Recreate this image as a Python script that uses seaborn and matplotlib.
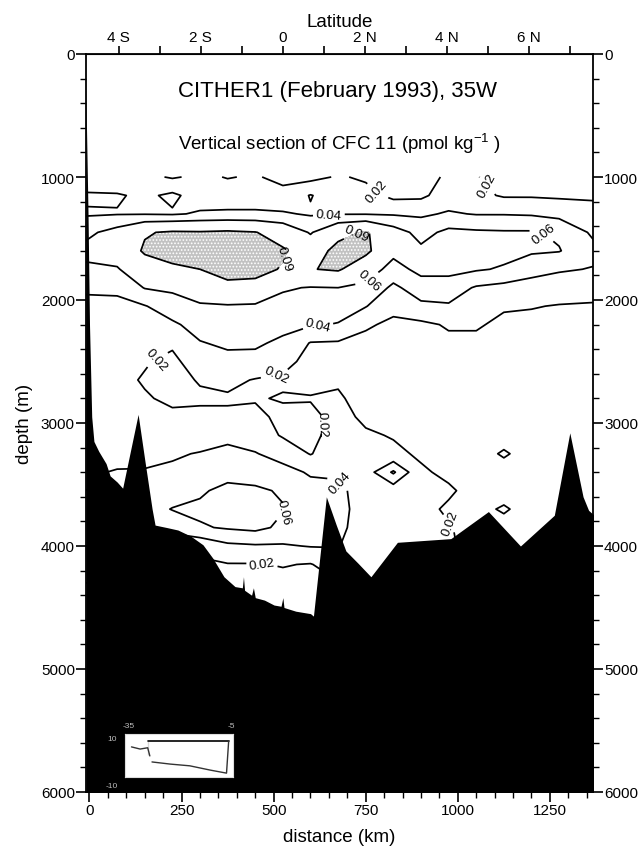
import numpy as np
import matplotlib
matplotlib.use("Agg")
import matplotlib.pyplot as plt
import seaborn as sns

# ---------------- data ----------------
distance_km = [-10, 75, 150, 225, 300, 375, 450, 525, 600, 675, 750, 825, 900,
               975, 1050, 1125, 1200, 1275, 1370]
depth_m = [1000, 1150, 1300, 1450, 1600, 1750, 1900, 2050, 2200, 2350, 2500, 2650,
           2800, 2950, 3100, 3250, 3400, 3550, 3700, 3850, 4000, 4150, 4300, 4450, 4600]

# CFC-11 (pmol/kg), one list per depth level, values at the distances above
cfc_1000 = [.025, .024, .025, .018, .024, .019, .022, .014, .014, .022, .017, .014, .013, .023, .021, .012, .012, .012, .013]
cfc_1150 = [.043, .042, .036, .044, .031, .030, .030, .027, .041, .030, .027, .015, .016, .030, .025, .018, .018, .017, .018]
cfc_1300 = [.038, .039, .039, .038, .042, .043, .043, .042, .038, .039, .039, .038, .037, .042, .039, .039, .038, .034, .025]
cfc_1450 = [.055, .068, .088, .093, .092, .094, .091, .078, .058, .082, .093, .070, .053, .065, .063, .062, .062, .057, .036]
cfc_1600 = [.066, .072, .093, .099, .098, .100, .098, .093, .076, .098, .096, .066, .064, .072, .070, .066, .063, .061, .045]
cfc_1750 = [.056, .058, .078, .086, .090, .097, .098, .088, .089, .093, .072, .052, .066, .066, .062, .058, .046, .042, .039]
cfc_1900 = [.043, .044, .061, .064, .070, .085, .082, .062, .059, .060, .055, .036, .050, .050, .038, .034, .033, .030, .028]
cfc_2050 = [.035, .035, .039, .050, .058, .058, .057, .054, .050, .048, .041, .024, .036, .038, .030, .022, .021, .019, .018]
cfc_2200 = [.031, .033, .030, .037, .047, .050, .050, .046, .042, .039, .022, .017, .016, .022, .022, .016, .015, .014, .014]
cfc_2350 = [.028, .028, .023, .022, .039, .043, .043, .036, .019, .018, .016, .014, .013, .016, .016, .014, .013, .013, .013]
cfc_2500 = [.026, .025, .021, .017, .027, .035, .034, .024, .016, .015, .014, .013, .012, .013, .014, .013, .013, .013, .013]
cfc_2650 = [.025, .023, .019, .016, .021, .024, .019, .018, .015, .018, .013, .012, .012, .012, .013, .012, .013, .013, .013]
cfc_2800 = [.026, .024, .021, .018, .018, .018, .019, .021, .021, .022, .014, .013, .012, .012, .012, .012, .013, .013, .013]
cfc_2950 = [.028, .026, .024, .022, .023, .023, .023, .017, .016, .025, .017, .015, .013, .012, .012, .012, .013, .013, .013]
cfc_3100 = [.031, .030, .030, .030, .031, .035, .031, .018, .015, .028, .022, .019, .015, .013, .012, .013, .013, .013, .013]
cfc_3250 = [.034, .035, .036, .038, .041, .045, .041, .033, .019, .032, .026, .023, .018, .015, .013, .022, .013, .013, .013]
cfc_3400 = [.038, .041, .041, .043, .050, .052, .052, .046, .038, .038, .030, .063, .022, .017, .014, .013, .013, .013, .013]
cfc_3550 = [.040, .045, .045, .048, .057, .066, .063, .058, .046, .043, .034, .028, .024, .022, .015, .013, .013, .013, .013]
cfc_3700 = [.042, .045, .050, .061, .064, .070, .068, .061, .050, .045, .033, .026, .024, .018, .015, .022, .013, .013, .013]
cfc_3850 = [.042, .045, .045, .045, .058, .062, .065, .056, .050, .045, .030, .024, .023, .021, .015, .014, .013, .013, .013]
cfc_4000 = [.040, .040, .035, .030, .025, .036, .038, .038, .041, .041, .028, .022, .022, .022, .015, .014, .013, .013, .013]
cfc_4150 = [.030, .030, .025, .019, .017, .019, .019, .021, .019, .030, .025, .021, .021, .021, .015, .014, .013, .013, .013]
cfc_4300 = [.020, .020, .018, .015, .014, .015, .014, .015, .015, .019, .021, .018, .018, .018, .015, .014, .013, .013, .013]
cfc_4450 = [.015, .015, .015, .013, .012, .012, .012, .012, .012, .015, .015, .015, .015, .015, .015, .014, .013, .013, .013]
cfc_4600 = [.015, .015, .015, .013, .012, .012, .012, .012, .012, .015, .015, .015, .015, .015, .015, .014, .013, .013, .013]

contour_levels = [0.02, 0.04, 0.06, 0.09]

# sea floor (distance km, depth m)
bottom_km = [-10, -4, 0, 6, 12, 25, 45, 56, 75, 90, 132, 150, 170, 178, 210, 240, 275,
             308, 335, 365, 395, 415, 418, 421, 440, 445, 450, 475, 501, 520, 525, 528,
             560, 600, 608, 643, 670, 696, 729, 764, 836, 981, 1083, 1170, 1262, 1304,
             1340, 1355, 1370]
bottom_m = [300, 1300, 2200, 2950, 3150, 3230, 3330, 3430, 3480, 3530, 2930, 3300, 3700,
            3830, 3850, 3870, 3920, 3990, 4100, 4250, 4330, 4340, 4250, 4360, 4400, 4340,
            4420, 4440, 4480, 4490, 4420, 4500, 4530, 4550, 4570, 3600, 3830, 4040, 4140,
            4250, 3970, 3940, 3720, 4000, 3750, 3080, 3600, 3710, 3750]

# latitude axis
lat_ticks = [-4, -2, 0, 2, 4, 6]
lat_labels = ["4 S", "2 S", "0", "2 N", "4 N", "6 N"]
lat_minor = [-4, -3, -2, -1, 0, 1, 2, 3, 4, 5, 6, 7]
equator_km = 525.0
km_per_degree = 111.3

# inset (location map) traces, in the inset's own 0..1 units
inset_top_x = [0.21, 0.96]
inset_top_y = [0.84, 0.84]
inset_step_x = [0.06, 0.14, 0.21, 0.23, 0.21]
inset_step_y = [0.70, 0.65, 0.52, 0.49, 0.84]
inset_low_x = [0.25, 0.42, 0.60, 0.79, 0.94, 0.96]
inset_low_y = [0.35, 0.30, 0.26, 0.16, 0.09, 0.84]

# ---------------- drawing ----------------
sns.set_style("ticks")
plt.rcParams["font.family"] = ["Liberation Sans", "DejaVu Sans"]
plt.rcParams["mathtext.default"] = "regular"
plt.rcParams["hatch.color"] = "#4a4a4a"
plt.rcParams["hatch.linewidth"] = 0.8
for k in ["text.color", "axes.labelcolor", "xtick.color", "ytick.color", "axes.edgecolor"]:
    plt.rcParams[k] = "black"

cfc = np.array([cfc_1000, cfc_1150, cfc_1300, cfc_1450, cfc_1600, cfc_1750, cfc_1900,
                cfc_2050, cfc_2200, cfc_2350, cfc_2500, cfc_2650, cfc_2800, cfc_2950,
                cfc_3100, cfc_3250, cfc_3400, cfc_3550, cfc_3700, cfc_3850, cfc_4000,
                cfc_4150, cfc_4300, cfc_4450, cfc_4600])
X, Y = np.meshgrid(distance_km, depth_m)

W, H = 644, 853
fig = plt.figure(figsize=(W / 100, H / 100), dpi=100)
fig.patch.set_facecolor("white")
ax = fig.add_axes([86 / W, 1 - 793 / H, (593 - 86) / W, (793 - 55) / H])
ax.set_facecolor("white")

ax.contourf(X, Y, cfc, levels=[0.09, 1.0], colors=["#c2c2c2"], hatches=["....."], zorder=1)
cs = ax.contour(X, Y, cfc, levels=contour_levels, colors="black", linewidths=1.25, zorder=2)
label_spots = [(650, 1310), (525, 1660), (735, 1480), (775, 1860), (1250, 1440),
               (620, 2215), (170, 2460), (505, 2600), (640, 3010), (705, 3460),
               (495, 3700), (985, 3810), (470, 4130), (1070, 1080), (830, 1050)]
lbls = ax.clabel(cs, manual=label_spots, fmt="%.2f", fontsize=9.5, inline=True,
                 inline_spacing=3)
for t in lbls:
    t.set_zorder(5)

ax.fill_between(bottom_km, bottom_m, 6100, color="black", lw=0, zorder=3)

ax.set_xlim(-9.5, 1367)
ax.set_ylim(6000, 0)
ax.set_xticks([0, 250, 500, 750, 1000, 1250])
ax.set_xticks(np.arange(0, 1351, 50), minor=True)
ax.set_yticks(np.arange(0, 6001, 1000))
ax.set_yticks(np.arange(0, 6001, 200), minor=True)
ax.tick_params(axis="both", which="major", direction="out", length=7, width=1.2,
               labelsize=11, pad=1, colors="black")
ax.tick_params(axis="both", which="minor", direction="out", length=4, width=1.0)
ax.tick_params(axis="y", which="both", left=True, right=True, labelleft=True,
               labelright=True)
ax.tick_params(axis="x", which="both", bottom=True, top=False)
for s in ax.spines.values():
    s.set_linewidth(1.3)
    s.set_color("black")
    s.set_visible(True)
ax.set_xlabel("distance (km)", fontsize=13.5, labelpad=8)
ax.set_ylabel("depth (m)", fontsize=13.5, labelpad=6)

sec = ax.secondary_xaxis("top", functions=(lambda d: (np.asarray(d) - equator_km) / km_per_degree,
                                           lambda l: np.asarray(l) * km_per_degree + equator_km))
sec.set_xticks(lat_ticks)
sec.set_xticklabels(lat_labels)
sec.set_xticks(lat_minor, minor=True)
sec.tick_params(which="both", direction="out", length=6, width=1.2, labelsize=11, pad=1)
sec.set_xlabel("Latitude", fontsize=13.5, labelpad=3)

fig.text(337 / W, 1 - 91 / H, "CITHER1 (February 1993), 35W", ha="center", va="center",
         fontsize=16)
fig.text(339 / W, 1 - 144 / H, "Vertical section of CFC 11 (pmol kg$^{-1}$ )",
         ha="center", va="center", fontsize=13.5)

# inset map
iax = fig.add_axes([125 / W, 1 - 778 / H, 108 / W, 43 / H])
iax.set_facecolor("white")
sns.lineplot(x=inset_top_x, y=inset_top_y, ax=iax, color="black", lw=1.2, sort=False)
sns.lineplot(x=inset_step_x, y=inset_step_y, ax=iax, color="#333333", lw=1.0, sort=False)
sns.lineplot(x=inset_low_x, y=inset_low_y, ax=iax, color="#333333", lw=1.0, sort=False)
iax.set_xlim(0, 1)
iax.set_ylim(0, 1)
iax.set_xticks([])
iax.set_yticks([])
for s in iax.spines.values():
    s.set_color("#dddddd")
    s.set_linewidth(0.8)
for txt, px, py in [("10", 112, 740), ("-10", 112, 786), ("-35", 129, 727), ("-5", 231, 727)]:
    fig.text(px / W, 1 - py / H, txt, ha="center", va="center", fontsize=6,
             color="#bdbdbd", zorder=10)

fig.savefig("out.png", dpi=100)
